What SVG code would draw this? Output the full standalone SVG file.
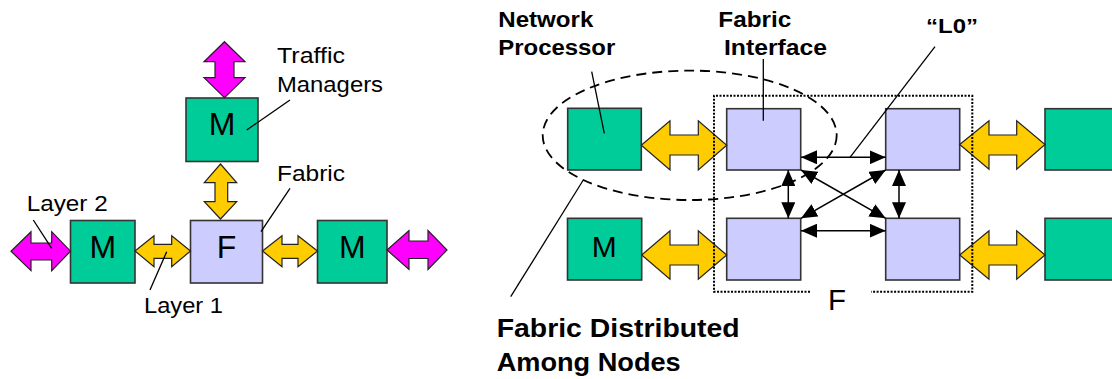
<svg xmlns="http://www.w3.org/2000/svg" width="1112" height="379" viewBox="0 0 1112 379">
<style>
.m{fill:#00CC99;stroke:#333;stroke-width:1.6}
.f{fill:#CCCCFF;stroke:#333;stroke-width:1.6}
.y{fill:#FFCC00;stroke:#222;stroke-width:1.2;stroke-linejoin:miter}
.p{fill:#FF00FF;stroke:#222;stroke-width:1.2}
.lead{stroke:#000;stroke-width:1.3;fill:none}
.con{stroke:#000;stroke-width:1.5;fill:none;marker-start:url(#ah);marker-end:url(#ah)}
.t{font-family:"Liberation Sans",Arial,sans-serif;font-size:22px;fill:#000}
.b{font-family:"Liberation Sans",Arial,sans-serif;font-weight:bold;font-size:22px;fill:#000}
.big{font-family:"Liberation Sans",Arial,sans-serif;font-size:32px;fill:#000;text-anchor:middle}
</style>
<defs>
<marker id="ah" viewBox="0 0 16 14" refX="16" refY="7" markerWidth="16" markerHeight="14" markerUnits="userSpaceOnUse" orient="auto-start-reverse">
<path d="M0,0 L16,7 L0,14 Z" fill="#000"/>
</marker>
</defs>

<!-- Left diagram -->
<g id="tm-top">
<rect class="m" x="186" y="98" width="72" height="63.5"/>
<text class="big" x="222" y="134.5">M</text>
</g>
<g id="fabric-left">
<rect class="f" x="190.5" y="220.5" width="72" height="62.5"/>
<text class="big" x="226.5" y="258.3">F</text>
</g>
<g id="tm-left">
<rect class="m" x="70.5" y="220.5" width="64.5" height="62.5"/>
<text class="big" x="102.8" y="258.3">M</text>
</g>
<g id="tm-right">
<rect class="m" x="317.5" y="220.5" width="69.5" height="62.5"/>
<text class="big" x="352.3" y="258.3">M</text>
</g>

<g id="left-arrows">
<polygon class="p" points="224.5,41.7 245,61.7 234,61.7 234,77.7 245,77.7 224.5,97.7 204,77.7 215,77.7 215,61.7 204,61.7"/>
<polygon class="y" points="220.5,164 236.7,182.7 227.7,182.7 227.7,201.7 236.7,201.7 220.5,219 204.3,201.7 215,201.7 215,182.7 204.3,182.7"/>
<polygon class="p" points="11,251.2 31,231.7 31,243 51.7,243 51.7,231.7 70.5,251.2 51.7,270.7 51.7,260 31,260 31,270.7"/>
<polygon class="y" points="135,251 154,235.7 154,244.3 171.7,244.3 171.7,235.7 190.5,251 171.7,266.7 171.7,258.3 154,258.3 154,266.7"/>
<polygon class="y" points="262.5,251 282,235.7 282,244.3 298,244.3 298,235.7 317.5,251 298,266.7 298,258.3 282,258.3 282,266.7"/>
<polygon class="p" points="387,250 409,230.5 409,241 428,241 428,230.5 447,250 428,269.5 428,258.5 409,258.5 409,269.5"/>
</g>

<g id="left-labels">
<line class="lead" x1="290" y1="100" x2="246.7" y2="130"/>
<line class="lead" x1="290" y1="188.3" x2="261" y2="231.7"/>
<line class="lead" x1="33.3" y1="220" x2="51.7" y2="248.3"/>
<line class="lead" x1="150" y1="290" x2="166.7" y2="251.7"/>
<text class="t" x="277" y="63.3" textLength="68" lengthAdjust="spacingAndGlyphs">Traffic</text>
<text class="t" x="277" y="92" textLength="106" lengthAdjust="spacingAndGlyphs">Managers</text>
<text class="t" x="277" y="180.7" textLength="68" lengthAdjust="spacingAndGlyphs">Fabric</text>
<text class="t" x="26.7" y="211" textLength="81" lengthAdjust="spacingAndGlyphs">Layer 2</text>
<text class="t" x="144" y="313.3" textLength="79" lengthAdjust="spacingAndGlyphs">Layer 1</text>
</g>

<!-- Right diagram -->
<g id="np-top">
<rect class="m" x="567.7" y="108.3" width="73.6" height="61.7"/>
</g>
<g id="np-bottom">
<rect class="m" x="567.5" y="218.3" width="74.2" height="61.7"/>
<text class="big" x="604.3" y="256.7" style="font-size:30px">M</text>
</g>
<g id="fi-tl"><rect class="f" x="726.7" y="108.7" width="74" height="61.3"/></g>
<g id="fi-tr"><rect class="f" x="885.7" y="108.7" width="74" height="61.3"/></g>
<g id="fi-bl"><rect class="f" x="726.7" y="218.3" width="74" height="61.7"/></g>
<g id="fi-br"><rect class="f" x="885.7" y="218.3" width="74" height="61.7"/></g>
<g id="np-right-top"><rect class="m" x="1045" y="108.7" width="80" height="61.3"/></g>
<g id="np-right-bottom"><rect class="m" x="1045" y="218.3" width="80" height="61.7"/></g>

<g id="right-arrows">
<polygon class="y" points="641.3,145.3 670,120.7 670,135 698.3,135 698.3,120.7 726.7,145.3 698.3,170 698.3,155 670,155 670,170"/>
<polygon class="y" points="641.7,255 670,230.7 670,245 698.3,245 698.3,230.7 726.7,255 698.3,279.3 698.3,265 670,265 670,279.3"/>
<polygon class="y" points="959.7,144.5 989,120.7 989,135 1016.7,135 1016.7,120.7 1045,144.5 1016.7,169.3 1016.7,155 989,155 989,169.3"/>
<polygon class="y" points="959.7,255 989,230.7 989,245 1016.7,245 1016.7,230.7 1045,255 1016.7,279.3 1016.7,265 989,265 989,279.3"/>
</g>

<g id="fabric-boundary">
<path d="M810,291.7 H714 V95.7 H972.3 V291.7 H871" fill="none" stroke="#000" stroke-width="2" stroke-dasharray="2 1.5"/>
<text class="t" x="828" y="310" style="font-size:30px" textLength="18" lengthAdjust="spacingAndGlyphs">F</text>
</g>

<g id="connectors">
<line class="con" x1="801" y1="157.3" x2="885.7" y2="157.3"/>
<line class="con" x1="801" y1="230.7" x2="885.7" y2="230.7"/>
<line class="con" x1="788.3" y1="170" x2="788.3" y2="218.3"/>
<line class="con" x1="899" y1="170" x2="899" y2="218.3"/>
<line class="con" x1="801" y1="170" x2="885.7" y2="218.3"/>
<line class="con" x1="885.7" y1="170" x2="801" y2="218.3"/>
</g>

<ellipse cx="689.7" cy="135.3" rx="147" ry="64.7" fill="none" stroke="#000" stroke-width="1.8" stroke-dasharray="10 6"/>

<g id="right-labels">
<line class="lead" x1="591.7" y1="71.7" x2="604.3" y2="133.3"/>
<line class="lead" x1="763.3" y1="59" x2="763.3" y2="120.7"/>
<line class="lead" x1="935" y1="46.7" x2="850" y2="157.3"/>
<line class="lead" x1="583.3" y1="180" x2="510.7" y2="296.7"/>
<text class="b" x="498.3" y="27.3" textLength="95" lengthAdjust="spacingAndGlyphs">Network</text>
<text class="b" x="498.3" y="55" textLength="117" lengthAdjust="spacingAndGlyphs">Processor</text>
<text class="b" x="718.3" y="26.7" textLength="73" lengthAdjust="spacingAndGlyphs">Fabric</text>
<text class="b" x="724" y="55" textLength="103" lengthAdjust="spacingAndGlyphs">Interface</text>
<text class="b" x="926" y="33.3" style="font-size:21px" textLength="52" lengthAdjust="spacingAndGlyphs">“L0”</text>
<text class="b" x="496.7" y="336.7" style="font-size:26px" textLength="243" lengthAdjust="spacingAndGlyphs">Fabric Distributed</text>
<text class="b" x="496.7" y="370.7" style="font-size:26px" textLength="184" lengthAdjust="spacingAndGlyphs">Among Nodes</text>
</g>
</svg>
